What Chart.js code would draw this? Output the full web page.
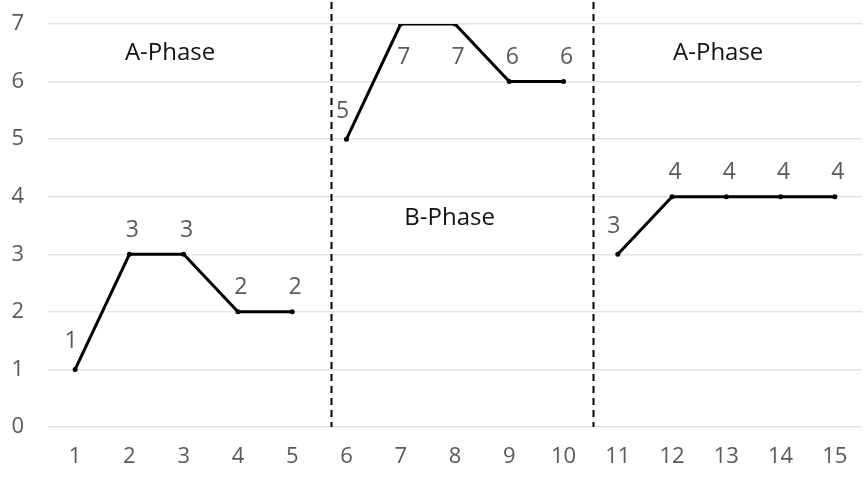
<!DOCTYPE html>
<html>
<head>
<meta charset="utf-8">
<script src="https://cdn.jsdelivr.net/npm/chart.js@4/dist/chart.umd.min.js"></script>
<style>
  html, body { margin: 0; padding: 0; background: #fff; }
  #wrap { width: 866px; height: 480px; }
</style>
</head>
<body>
<div id="wrap"><canvas id="phaseChart" width="866" height="480"></canvas></div>
<script>
// Категории по оси X
const sessions = ['1', '2', '3', '4', '5', '6', '7', '8', '9', '10', '11', '12', '13', '14', '15'];

// Значения по фазам
const phaseA1 = [1, 3, 3, 2, 2];
const phaseB = [5, 7, 7, 6, 6];
const phaseA2 = [3, 4, 4, 4, 4];

const yTicks = [0, 1, 2, 3, 4, 5, 6, 7];
const phaseNames = ['A-Phase', 'B-Phase', 'A-Phase'];

const FONT = '"Open Sans", "DejaVu Sans", sans-serif';
const GRAY = '#595959';

// дополняем null, чтобы каждая фаза была отдельной линией
function pad(values, start) {
  return sessions.map((_, i) => (i >= start && i < start + values.length ? values[i - start] : null));
}

const phases = [phaseA1, phaseB, phaseA2];
const datasets = phases.map((vals, k) => ({
  data: pad(vals, k * 5),
  borderColor: '#000',
  backgroundColor: '#000',
  borderWidth: 3,
  pointRadius: 1,
  pointHoverRadius: 1,
  tension: 0,
  spanGaps: false,
}));

// подписи значений, пунктирные разделители и названия фаз
const phasePlugin = {
  id: 'phasePlugin',
  afterDatasetsDraw(chart) {
    const { ctx, chartArea, scales } = chart;
    const x = scales.x;
    const y = scales.y;
    ctx.save();

    // пунктир между фазами (в оригинале чуть правее середины)
    ctx.strokeStyle = '#000';
    ctx.lineWidth = 2;
    ctx.setLineDash([7, 5]);
    [4.72, 9.55].forEach((pos) => {
      const i = Math.floor(pos);
      const f = pos - i;
      const px = x.getPixelForValue(i) + f * (x.getPixelForValue(i + 1) - x.getPixelForValue(i));
      ctx.beginPath();
      ctx.moveTo(Math.round(px) + 0.5, 2);
      ctx.lineTo(Math.round(px) + 0.5, chartArea.bottom);
      ctx.stroke();
    });
    ctx.setLineDash([]);

    // подписи точек
    ctx.fillStyle = GRAY;
    ctx.font = '23px ' + FONT;
    ctx.textAlign = 'center';
    ctx.textBaseline = 'middle';
    chart.data.datasets.forEach((ds, di) => {
      const meta = chart.getDatasetMeta(di);
      meta.data.forEach((pt, i) => {
        const v = ds.data[i];
        if (v === null) return;
        const below = pt.y - 30 < chartArea.top;
        const first = i % 5 === 0;
        const dx = first ? -4 : 3;
        const dy = below ? 33 : (first ? -28 : -24);
        ctx.fillText(String(v), pt.x + dx, pt.y + dy);
      });
    });

    // названия фаз
    ctx.fillStyle = '#111';
    ctx.font = '24px ' + FONT;
    const namePos = [[1.75, 6.5], [6.9, 3.62], [11.85, 6.5]];
    phaseNames.forEach((name, k) => {
      ctx.fillText(name, x.getPixelForValue(namePos[k][0]), y.getPixelForValue(namePos[k][1]));
    });

    ctx.restore();
  },
};

new Chart(document.getElementById('phaseChart').getContext('2d'), {
  type: 'line',
  data: { labels: sessions, datasets: datasets },
  options: {
    responsive: false,
    animation: false,
    layout: { padding: { top: 24, right: 3, left: 0, bottom: 0 } },
    plugins: {
      legend: { display: false },
      tooltip: { enabled: false },
    },
    scales: {
      x: {
        offset: true,
        grid: { display: false, drawTicks: false },
        border: { display: false },
        ticks: { color: GRAY, font: { family: FONT, size: 22 }, padding: 17, maxRotation: 0 },
        afterFit: (scale) => {
          scale.height = 53;
          scale.paddingLeft = 0;
          scale.paddingRight = 0;
        },
      },
      y: {
        min: 0,
        max: 7,
        afterBuildTicks: (scale) => { scale.ticks = yTicks.map((v) => ({ value: v })); },
        grid: { color: '#e3e3e3', lineWidth: 1.5, drawTicks: false },
        border: { display: false },
        ticks: { color: GRAY, font: { family: FONT, size: 22 }, padding: 24 },
        afterFit: (scale) => {
          scale.width = 48;
          scale.paddingTop = 0;
          scale.paddingBottom = 0;
        },
      },
    },
  },
  plugins: [phasePlugin],
});
</script>
</body>
</html>
